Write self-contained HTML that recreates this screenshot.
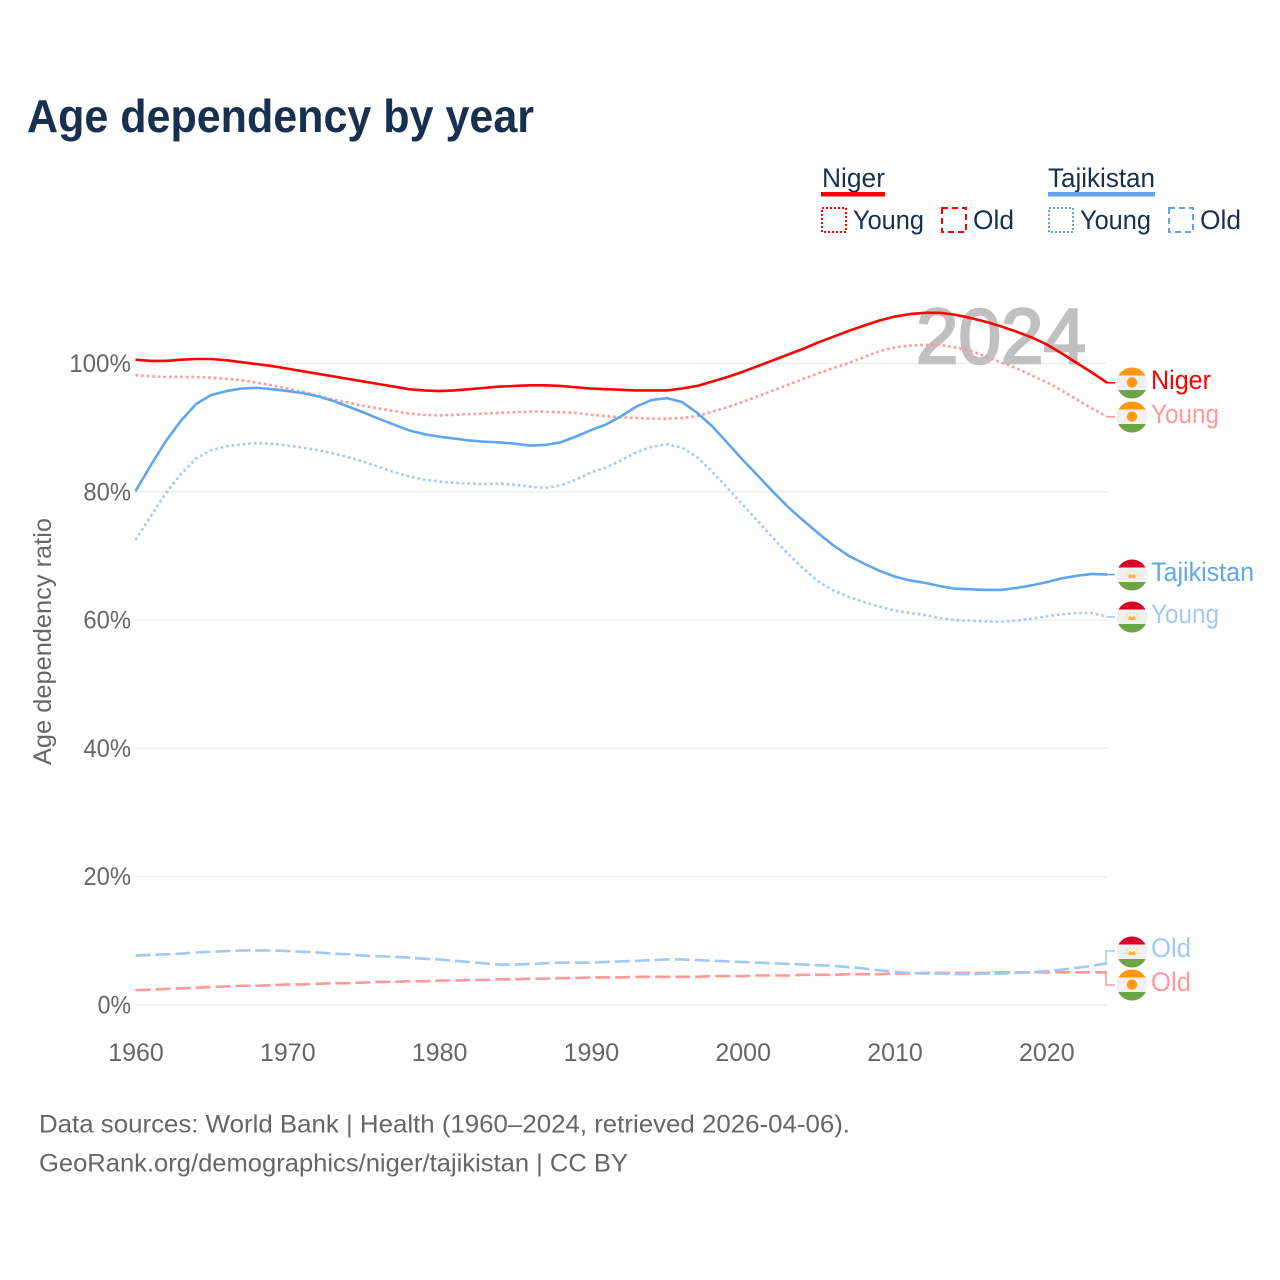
<!DOCTYPE html>
<html lang="en">
<head>
<meta charset="utf-8">
<title>Age dependency by year</title>
<style>
html,body{margin:0;padding:0;background:#fff;}
svg{display:block;font-family:"Liberation Sans",sans-serif;}
</style>
</head>
<body>
<svg id="chart" width="1280" height="1280" viewBox="0 0 1280 1280" xmlns="http://www.w3.org/2000/svg">
<defs>
<clipPath id="flag-clip"><circle cx="0" cy="0" r="15.5"/></clipPath>
<g id="flag-ne">
<g clip-path="url(#flag-clip)">
<rect x="-16" y="-16" width="32" height="32" fill="#f0f0f0"/>
<rect x="-16" y="-16" width="32" height="8.5" fill="#ff9811"/>
<rect x="-16" y="7" width="32" height="9" fill="#6da544"/>
<circle cx="0" cy="-0.5" r="5.2" fill="#ff9811"/>
</g>
</g>
<g id="flag-tj">
<g clip-path="url(#flag-clip)">
<rect x="-16" y="-16" width="32" height="32" fill="#f0f0f0"/>
<rect x="-16" y="-16" width="32" height="8.5" fill="#d80027"/>
<rect x="-16" y="7" width="32" height="9" fill="#6da544"/>
<rect x="-3.5" y="0.5" width="7" height="2.5" fill="#ffb13c"/>
<path d="M-3.5 0.5 L-2 -1.2 L0 0.5 L2 -1.2 L3.5 0.5 Z" fill="#ffb13c"/>
<circle cx="-6" cy="1" r="0.8" fill="#ffda44"/><circle cx="6" cy="1" r="0.8" fill="#ffda44"/>
<circle cx="-5" cy="-2" r="0.8" fill="#ffda44"/><circle cx="5" cy="-2" r="0.8" fill="#ffda44"/>
<circle cx="-2" cy="-4" r="0.8" fill="#ffda44"/><circle cx="2" cy="-4" r="0.8" fill="#ffda44"/>
</g>
</g>
</defs>

<text x="27" y="132" font-size="46" font-weight="700" fill="#17304f" textLength="507" lengthAdjust="spacingAndGlyphs">Age dependency by year</text>

<g fill="#17304f" font-size="27">
<text x="822" y="187" textLength="63" lengthAdjust="spacingAndGlyphs">Niger</text>
<rect x="821" y="192" width="64" height="4.5" fill="#ff0000"/>
<rect x="822" y="208" width="24" height="24" fill="none" stroke="#ff0000" stroke-width="2" stroke-dasharray="2 2"/>
<text x="853" y="229" textLength="71" lengthAdjust="spacingAndGlyphs">Young</text>
<rect x="942" y="208" width="24" height="24" fill="none" stroke="#ff0000" stroke-width="2" stroke-dasharray="6 4"/>
<text x="973" y="229" textLength="41" lengthAdjust="spacingAndGlyphs">Old</text>
<text x="1048" y="187" textLength="107" lengthAdjust="spacingAndGlyphs">Tajikistan</text>
<rect x="1048" y="192" width="107" height="4.5" fill="#60a5ee"/>
<rect x="1049" y="208" width="24" height="24" fill="none" stroke="#60a5ee" stroke-width="2" stroke-dasharray="2 2"/>
<text x="1080" y="229" textLength="71" lengthAdjust="spacingAndGlyphs">Young</text>
<rect x="1169" y="208" width="24" height="24" fill="none" stroke="#60a5ee" stroke-width="2" stroke-dasharray="6 4"/>
<text x="1200" y="229" textLength="41" lengthAdjust="spacingAndGlyphs">Old</text>
</g>

<g id="grid"></g>
<text x="916" y="363" font-size="78" fill="#c0c0c0" stroke="#c0c0c0" stroke-width="2.4" textLength="170" lengthAdjust="spacingAndGlyphs">2024</text>
<g id="ytick-labels"></g>
<g id="xtick-labels"></g>
<text transform="translate(51,765) rotate(-90)" x="0" y="0" font-size="25" fill="#666" textLength="247" lengthAdjust="spacingAndGlyphs">Age dependency ratio</text>
<g id="series"></g>

<g font-size="27">
<use href="#flag-ne" x="1132" y="383"/>
<use href="#flag-ne" x="1132" y="417"/>
<use href="#flag-tj" x="1132" y="575"/>
<use href="#flag-tj" x="1132" y="617"/>
<use href="#flag-tj" x="1132" y="952"/>
<use href="#flag-ne" x="1132" y="985"/>
<text x="1151" y="389" fill="#ff0000" textLength="60" lengthAdjust="spacingAndGlyphs">Niger</text>
<text x="1151" y="423" fill="#ff9999" textLength="68" lengthAdjust="spacingAndGlyphs">Young</text>
<text x="1151" y="581" fill="#60a5ee" textLength="103" lengthAdjust="spacingAndGlyphs">Tajikistan</text>
<text x="1151" y="623" fill="#a0c9f6" textLength="68" lengthAdjust="spacingAndGlyphs">Young</text>
<text x="1151" y="957" fill="#a0c9f6" textLength="40" lengthAdjust="spacingAndGlyphs">Old</text>
<text x="1151" y="991" fill="#ff9999" textLength="40" lengthAdjust="spacingAndGlyphs">Old</text>
</g>

<g font-size="25" fill="#666">
<text x="39" y="1132.5" textLength="811" lengthAdjust="spacingAndGlyphs">Data sources: World Bank | Health (1960–2024, retrieved 2026-04-06).</text>
<text x="39" y="1171.5" textLength="589" lengthAdjust="spacingAndGlyphs">GeoRank.org/demographics/niger/tajikistan | CC BY</text>
</g>
</svg>

<script>
const years = [1960,1961,1962,1963,1964,1965,1966,1967,1968,1969,
  1970,1971,1972,1973,1974,1975,1976,1977,1978,1979,
  1980,1981,1982,1983,1984,1985,1986,1987,1988,1989,
  1990,1991,1992,1993,1994,1995,1996,1997,1998,1999,
  2000,2001,2002,2003,2004,2005,2006,2007,2008,2009,
  2010,2011,2012,2013,2014,2015,2016,2017,2018,2019,
  2020,2021,2022,2023,2024];
const nigerTotal = [100.6,100.4,100.4,100.6,100.7,100.7,100.5,100.2,99.9,99.6,
  99.2,98.8,98.4,98.0,97.6,97.2,96.8,96.4,96.0,95.8,
  95.7,95.8,96.0,96.2,96.4,96.5,96.6,96.6,96.5,96.3,
  96.1,96.0,95.9,95.8,95.8,95.8,96.1,96.5,97.2,97.9,
  98.7,99.6,100.5,101.4,102.3,103.3,104.2,105.1,105.9,106.7,
  107.3,107.7,107.9,107.9,107.6,107.1,106.5,105.8,105.0,104.1,
  103.0,101.6,100.1,98.6,97.0];
const nigerYoung = [98.2,98.0,97.9,97.9,97.9,97.8,97.6,97.4,97.0,96.6,
  96.1,95.6,95.0,94.4,93.9,93.4,93.0,92.6,92.2,92.0,
  91.9,92.0,92.1,92.2,92.3,92.4,92.5,92.5,92.4,92.3,
  92.0,91.8,91.6,91.5,91.4,91.4,91.5,91.8,92.5,93.2,
  94.0,94.9,95.8,96.7,97.6,98.5,99.3,100.1,101.0,101.9,
  102.5,102.8,102.9,102.9,102.5,102.0,101.1,100.2,99.3,98.2,
  97.1,95.8,94.4,93.0,91.7];
const nigerOld = [2.3,2.4,2.5,2.6,2.7,2.8,2.9,3.0,3.0,3.1,
  3.2,3.2,3.3,3.4,3.4,3.5,3.6,3.6,3.7,3.7,
  3.8,3.8,3.9,3.9,4.0,4.0,4.1,4.1,4.2,4.2,
  4.3,4.3,4.3,4.4,4.4,4.4,4.4,4.4,4.5,4.5,
  4.5,4.6,4.6,4.6,4.7,4.7,4.7,4.8,4.8,4.8,
  4.9,4.9,5.0,5.0,5.0,5.0,5.0,5.1,5.1,5.1,
  5.1,5.1,5.1,5.1,5.1];
const tajikTotal = [80.1,84.1,87.9,91.1,93.7,95.1,95.7,96.1,96.2,96.0,
  95.7,95.4,94.9,94.2,93.3,92.4,91.4,90.5,89.6,89.0,
  88.6,88.3,88.0,87.8,87.7,87.5,87.2,87.3,87.7,88.6,
  89.6,90.5,91.8,93.3,94.3,94.6,94.0,92.3,90.2,87.6,
  85.0,82.5,80.0,77.6,75.5,73.5,71.6,70.0,68.8,67.7,
  66.8,66.2,65.8,65.3,64.9,64.8,64.7,64.7,65.0,65.4,
  65.9,66.5,66.9,67.2,67.1];
const tajikYoung = [72.5,76.2,79.8,82.8,85.2,86.5,87.1,87.4,87.6,87.5,
  87.2,86.9,86.5,86.0,85.4,84.7,83.9,83.1,82.4,81.9,
  81.6,81.4,81.3,81.2,81.3,81.1,80.8,80.6,81.0,81.9,
  83.0,83.8,84.9,86.2,87.0,87.4,86.9,85.4,83.1,80.6,
  78.0,75.4,72.8,70.3,68.0,66.0,64.6,63.6,62.8,62.1,
  61.5,61.1,60.8,60.3,60.0,59.9,59.8,59.7,59.9,60.2,
  60.6,60.9,61.1,61.1,60.5];
const tajikOld = [7.7,7.8,7.9,8.0,8.2,8.3,8.4,8.5,8.5,8.5,
  8.4,8.3,8.2,8.0,7.9,7.7,7.6,7.5,7.4,7.2,
  7.1,6.9,6.7,6.5,6.3,6.3,6.4,6.5,6.6,6.6,
  6.6,6.7,6.8,6.9,7.0,7.1,7.1,7.0,6.9,6.8,
  6.7,6.6,6.5,6.4,6.3,6.2,6.1,5.9,5.7,5.4,
  5.2,5.0,4.9,4.9,4.8,4.8,4.9,4.9,5.0,5.1,
  5.3,5.5,5.8,6.1,6.5];
const yTicks = [0,20,40,60,80,100];
const xTicks = [1960,1970,1980,1990,2000,2010,2020];

const NS = 'http://www.w3.org/2000/svg';
function xScale(year){ return 135.5 + (year - 1960) * 15.18; }
function yScale(value){ return 1005 - value * 6.415; }
function make(tag, parent, attrs){
  const el = document.createElementNS(NS, tag);
  for (const k in attrs) el.setAttribute(k, attrs[k]);
  parent.appendChild(el);
  return el;
}

const grid = document.getElementById('grid');
const yLabels = document.getElementById('ytick-labels');
yTicks.forEach(function(t){
  const line = make('line', grid, {x1:135, x2:1107, y1:yScale(t), y2:yScale(t), stroke:'#eeeeee', 'stroke-width':1.5});
  
  
  const text = t + '%';
  const label = make('text', yLabels, {x:131 - (text.length * 14.2 + 5), y:yScale(t)+8.5, 'font-size':25, fill:'#666', textLength:text.length * 14.2 + 5, lengthAdjust:'spacingAndGlyphs'});
  
  
  label.textContent = text;
});
const xLabels = document.getElementById('xtick-labels');
xTicks.forEach(function(t){
  const label = make('text', xLabels, {x:xScale(t)+0.5, y:1061, 'text-anchor':'middle', 'font-size':25, fill:'#666'});
  
  
  label.textContent = t;
});

const seriesGroup = document.getElementById('series');
function drawSeries(name, values, color, width, dash, tail){
  const pts = values.map(function(v, i){ return xScale(years[i]).toFixed(2) + ',' + yScale(v).toFixed(2); });
  const attrs = {points:pts.join(' '), fill:'none', stroke:color, 'stroke-width':width, 'stroke-linejoin':'round'};
  if (dash) attrs['stroke-dasharray'] = dash;
  const line = make('polyline', seriesGroup, attrs);
  
  
  const endX = xScale(years[years.length - 1]);
  const endY = yScale(values[values.length - 1]);
  const path = tail === null
    ? 'M' + endX + ' ' + endY + ' L1115 ' + endY
    : 'M' + (endX - 1) + ' ' + endY + ' L' + (endX - 1) + ' ' + tail + ' L1115 ' + tail;
  const link = make('path', seriesGroup, {d:path, fill:'none', stroke:color, 'stroke-width':tail === null ? 1.6 : 1.5});
  
  
}
drawSeries('niger-old-line', nigerOld, '#ff9999', 2.6, '15 5', 985);
drawSeries('tajikistan-old-line', tajikOld, '#a0c9f6', 2.6, '15 5', 951);
drawSeries('niger-young-line', nigerYoung, '#ff9999', 2.6, '2.6 3', null);
drawSeries('tajikistan-young-line', tajikYoung, '#a0c9f6', 2.6, '2.6 3', null);
drawSeries('tajikistan-total-line', tajikTotal, '#60a5ee', 2.6, null, null);
drawSeries('niger-total-line', nigerTotal, '#ff0000', 2.6, null, null);
</script>
</body>
</html>
